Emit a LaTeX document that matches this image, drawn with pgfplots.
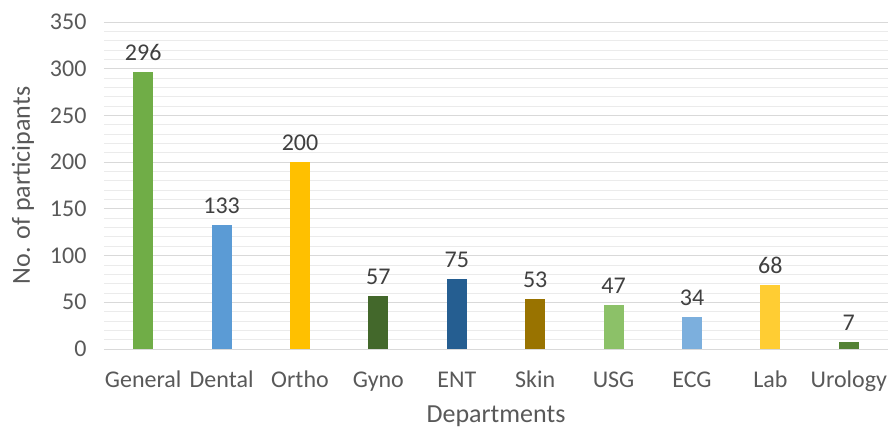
\documentclass[border=0pt]{standalone}
\usepackage{fontspec}
\setmainfont{Carlito}
\usepackage{pgfplots}
\pgfplotsset{compat=1.18}

\definecolor{txt}{HTML}{595959}
\definecolor{lbl}{HTML}{404040}
\definecolor{gridmaj}{HTML}{D9D9D9}
\definecolor{gridmin}{HTML}{EBEBEB}
\definecolor{cGeneral}{HTML}{70AD47}
\definecolor{cDental}{HTML}{5B9BD5}
\definecolor{cOrtho}{HTML}{FFC000}
\definecolor{cGyno}{HTML}{43682B}
\definecolor{cENT}{HTML}{255E91}
\definecolor{cSkin}{HTML}{997300}
\definecolor{cUSG}{HTML}{8CC168}
\definecolor{cECG}{HTML}{7CAFDD}
\definecolor{cLab}{HTML}{FFCD33}
\definecolor{cUro}{HTML}{548235}

\begin{document}
\begin{tikzpicture}
\begin{axis}[
  at={(0,0)}, anchor=south west,
  scale only axis,
  width=784pt, height=327pt,
  xmin=-0.5, xmax=9.5,
  ymin=0, ymax=350,
  ytick={0,50,...,350},
  minor y tick num=4,
  ymajorgrids, yminorgrids,
  major grid style={gridmaj, line width=0.8pt},
  minor grid style={gridmin, line width=0.8pt},
  axis line style={draw=none},
  axis x line*=bottom,
  axis y line*=left,
  major tick length=0pt, minor tick length=0pt,
  xtick={0,...,9},
  xticklabels={General,Dental,Ortho,Gyno,ENT,Skin,USG,ECG,Lab,Urology},
  tick label style={font=\fontsize{24}{26}\selectfont, text=txt},
  /pgf/number format/assume math mode=true,
  xticklabel style={anchor=base, yshift=-39pt},
  yticklabel style={xshift=-14pt},
  xlabel={Departments},
  ylabel={No. of participants},
  label style={font=\fontsize{26}{28}\selectfont, text=txt},
  xlabel style={at={(axis description cs:0.5,-0.224)}, anchor=base},
  ylabel style={at={(axis description cs:-0.0944,0.5)}, anchor=base},
  ybar, bar width=20pt, bar shift=0pt,
  nodes near coords,
  every node near coord/.append style={font=\fontsize{24}{26}\selectfont, text=lbl, yshift=8pt},
]
\addplot[fill=cGeneral, draw=none] coordinates {(0,296)};
\addplot[fill=cDental, draw=none] coordinates {(1,133)};
\addplot[fill=cOrtho, draw=none] coordinates {(2,200)};
\addplot[fill=cGyno, draw=none] coordinates {(3,57)};
\addplot[fill=cENT, draw=none] coordinates {(4,75)};
\addplot[fill=cSkin, draw=none] coordinates {(5,53)};
\addplot[fill=cUSG, draw=none] coordinates {(6,47)};
\addplot[fill=cECG, draw=none] coordinates {(7,34)};
\addplot[fill=cLab, draw=none] coordinates {(8,68)};
\addplot[fill=cUro, draw=none] coordinates {(9,7)};
\draw[gridmaj, line width=0.8pt] (axis cs:-0.5,0) -- (axis cs:9.5,0);
\end{axis}
\pgfresetboundingbox
\useasboundingbox (-104pt,-81pt) rectangle (784pt,349pt);
\end{tikzpicture}
\end{document}
